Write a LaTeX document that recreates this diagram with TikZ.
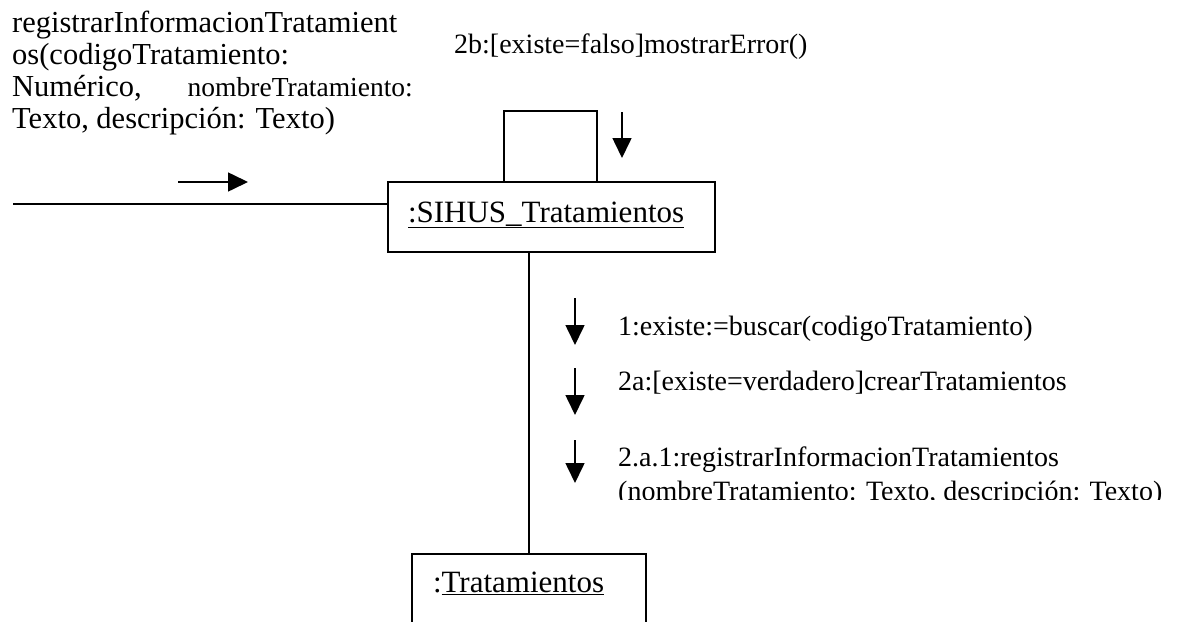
\documentclass[tikz,border=0pt]{standalone}
\usepackage{fontspec}
\setmainfont{Liberation Serif}
\usetikzlibrary{arrows.meta}
\newcommand{\msgfont}{\fontsize{28}{32}\selectfont}
\newcommand{\objfont}{\fontsize{31}{36}\selectfont}
\newcommand{\notafont}{\fontsize{30.5}{32}\selectfont}
\tikzset{
  objeto/.style={draw, line width=1.6pt, inner xsep=20pt, inner ysep=0pt, align=left,
                 text height=22pt, font=\objfont},
  mensaje/.style={anchor=base west, inner sep=0pt, font=\msgfont},
  nota/.style={anchor=base west, inner sep=0pt, font=\notafont},
  flecha/.style={-{Triangle[length=20pt,width=19pt]}, line width=1.6pt},
  enlace/.style={line width=1.6pt}
}

\begin{document}
\begin{tikzpicture}[x=1pt,y=-1pt]
    \useasboundingbox (0,0) rectangle (1183,621);
    \clip (0,0) rectangle (1183,621);
    \node[objeto, text width=287pt, text depth=12pt, minimum height=70pt] (sihus) at (551.5,217) {\underline{:SIHUS\_Tratamientos}};
    \node[objeto, text width=192pt, inner xsep=21pt, text depth=16pt, minimum height=70pt] (trat) at (529,589) {:\underline{Tratamientos}};
    \coordinate (entrada) at (13,204);
    \draw[enlace] (entrada) -- (entrada -| sihus.west);
    \draw[enlace] (trat.north) -- (trat.north |- sihus.south);
    \draw[enlace] ([xshift=117pt]sihus.north west) -- ++(0,-70) -- ++(93,0) -- ++(0,70);
    \node[nota] (nota1) at (12,32) {registrarInformacionTratamient};
    \node[nota] (nota2) at (12,64) {os(codigoTratamiento:};
    \node[nota] (nota3) at (12,96) {Numérico,};
    \node[anchor=base east, inner sep=0pt, font=\fontsize{27.5}{32}\selectfont] (nota3b) at (413,96) {nombreTratamiento:};
    \node[nota] (nota4) at (12,128) {Texto, descripción: Texto)};
    \draw[flecha] (178,182) -- (248,182);
    \node[mensaje] (m2b) at (454,53) {2b:[existe=falso]mostrarError()};
    \draw[flecha] (622,112) -- (622,158);
    \draw[flecha] (575,298) -- (575,345);
    \node[mensaje] (m1) at (618,335) {1:existe:=buscar(codigoTratamiento)};
    \draw[flecha] (575,368) -- (575,415);
    \node[mensaje] (m2a) at (618,390) {2a:[existe=verdadero]crearTratamientos};
    \draw[flecha] (575,440) -- (575,483);
    \node[mensaje] (m2a1) at (618,466) {2.a.1:registrarInformacionTratamientos};
    \begin{scope}
      \clip (600,440) rectangle (1183,499);
      \node[mensaje] (m2a1b) at (618,500) {(nombreTratamiento: Texto, descripción: Texto)};
    \end{scope}
  \end{tikzpicture}
\end{document}
